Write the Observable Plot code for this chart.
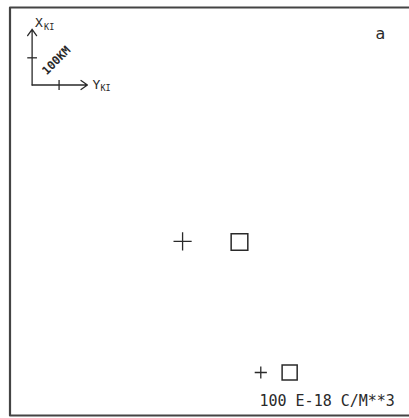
<!DOCTYPE html>
<html>
<head>
<meta charset="utf-8">
<script src="https://cdn.jsdelivr.net/npm/d3@7"></script>
<script src="https://cdn.jsdelivr.net/npm/@observablehq/plot@0.6"></script>
<style>
  html, body { margin: 0; padding: 0; background: #fff; overflow: hidden; }
  svg { display: block; overflow: hidden; }
</style>
</head>
<body>
<div id="chart"></div>
<script>
// Map window in km (x = Y_KI direction, y = X_KI direction)
const mapExtentKm = [0, 1500];
const frameRightKm = 1480; // frame is open on the right, running to the page edge

// Observed / modelled sources (km)
const symbolKinds = ["plus", "square"];
const sourceXKm = [640, 851];
const sourceYKm = [640, 638];

// Legend symbols (100 E-18 C/M**3)
const legendXKm = [930, 1037];
const legendYKm = [158, 158];
const legendLabel = "100 E-18 C/M**3";
const legendLabelXKm = [925];
const legendLabelYKm = [34];

// Orientation inset
const insetOriginKm = [82, 1215];
const insetArrowKm = 205;
const insetTickKm = 100;
const insetTickLabel = "100KM";
const axisNames = ["X", "Y"];
const axisSub = "KI";

// Panel letter
const panelLabel = "a";
const panelXKm = [1374];
const panelYKm = [1404];

const ink = "#2a2a2a";
const [ox, oy] = insetOriginKm;

const sources = symbolKinds.map((k, i) => ({kind: k, x: sourceXKm[i], y: sourceYKm[i]}));
const legend = symbolKinds.map((k, i) => ({kind: k, x: legendXKm[i], y: legendYKm[i]}));

const framePath = [
  {x: frameRightKm, y: mapExtentKm[1]},
  {x: mapExtentKm[0], y: mapExtentKm[1]},
  {x: mapExtentKm[0], y: mapExtentKm[0]},
  {x: frameRightKm, y: mapExtentKm[0]}
];

const arrows = [
  {x1: ox, y1: oy, x2: ox, y2: oy + insetArrowKm},
  {x1: ox, y1: oy, x2: ox + insetArrowKm, y2: oy}
];
const tickHalf = 18;
const ticks = [
  {x1: ox - tickHalf, y1: oy + insetTickKm, x2: ox + tickHalf, y2: oy + insetTickKm},
  {x1: ox + insetTickKm, y1: oy - tickHalf, x2: ox + insetTickKm, y2: oy + tickHalf}
];

const font = "DejaVu Sans Mono";

const chart = Plot.plot({
  width: 409,
  height: 418,
  margin: 0,
  style: {background: "#fff"},
  x: {domain: mapExtentKm, range: [9.5, 414], axis: null},
  y: {domain: mapExtentKm, range: [415, 7], axis: null},
  marks: [
    // frame (left, top, bottom)
    Plot.line(framePath, {x: "x", y: "y", stroke: "#444", strokeWidth: 2.2, curve: "linear"}),

    // orientation inset
    Plot.arrow(arrows, {x1: "x1", y1: "y1", x2: "x2", y2: "y2", stroke: ink, strokeWidth: 1.3, headLength: 9, headAngle: 70}),
    Plot.link(ticks, {x1: "x1", y1: "y1", x2: "x2", y2: "y2", stroke: ink, strokeWidth: 1.3}),
    Plot.text([insetTickLabel], {x: ox + insetTickKm * 0.9, y: oy + insetTickKm * 0.9, text: d => d, rotate: -45,
      fontFamily: font, fontSize: 11.5, fill: ink, fontWeight: "bold", letterSpacing: -0.5}),
    // X_KI label
    Plot.text([axisNames[0]], {x: ox, y: oy + insetArrowKm, text: d => d, dx: 3, dy: -6, textAnchor: "start",
      fontFamily: font, fontSize: 13, fill: ink}),
    Plot.text([axisSub], {x: ox, y: oy + insetArrowKm, text: d => d, dx: 12, dy: -2, textAnchor: "start",
      fontFamily: font, fontSize: 8.5, fill: ink, letterSpacing: 1}),
    // Y_KI label
    Plot.text([axisNames[1]], {x: ox + insetArrowKm, y: oy, text: d => d, dx: 5, dy: 0, textAnchor: "start",
      fontFamily: font, fontSize: 13, fill: ink}),
    Plot.text([axisSub], {x: ox + insetArrowKm, y: oy, text: d => d, dx: 13, dy: 3, textAnchor: "start",
      fontFamily: font, fontSize: 8.5, fill: ink, letterSpacing: 1}),

    // panel letter
    Plot.text([panelLabel], {x: panelXKm[0], y: panelYKm[0], text: d => d, fontFamily: "DejaVu Sans", fontSize: 16, fill: ink}),

    // sources
    Plot.dot(sources.filter(d => d.kind === "plus"), {x: "x", y: "y", symbol: "plus", r: 5.9, stroke: ink, strokeWidth: 1.3}),
    Plot.dot(sources.filter(d => d.kind === "square"), {x: "x", y: "y", symbol: "square", r: 9.4, stroke: ink, strokeWidth: 1.5, fill: "none"}),

    // legend
    Plot.dot(legend.filter(d => d.kind === "plus"), {x: "x", y: "y", symbol: "plus", r: 4, stroke: ink, strokeWidth: 1.3}),
    Plot.dot(legend.filter(d => d.kind === "square"), {x: "x", y: "y", symbol: "square", r: 8.5, stroke: ink, strokeWidth: 1.5, fill: "none"}),
    Plot.text([legendLabel], {x: legendLabelXKm[0], y: legendLabelYKm[0], text: d => d, textAnchor: "start", lineAnchor: "bottom",
      fontFamily: font, fontSize: 15, fill: ink, letterSpacing: 0.7})
  ]
});
document.getElementById("chart").append(chart);
</script>
</body>
</html>
